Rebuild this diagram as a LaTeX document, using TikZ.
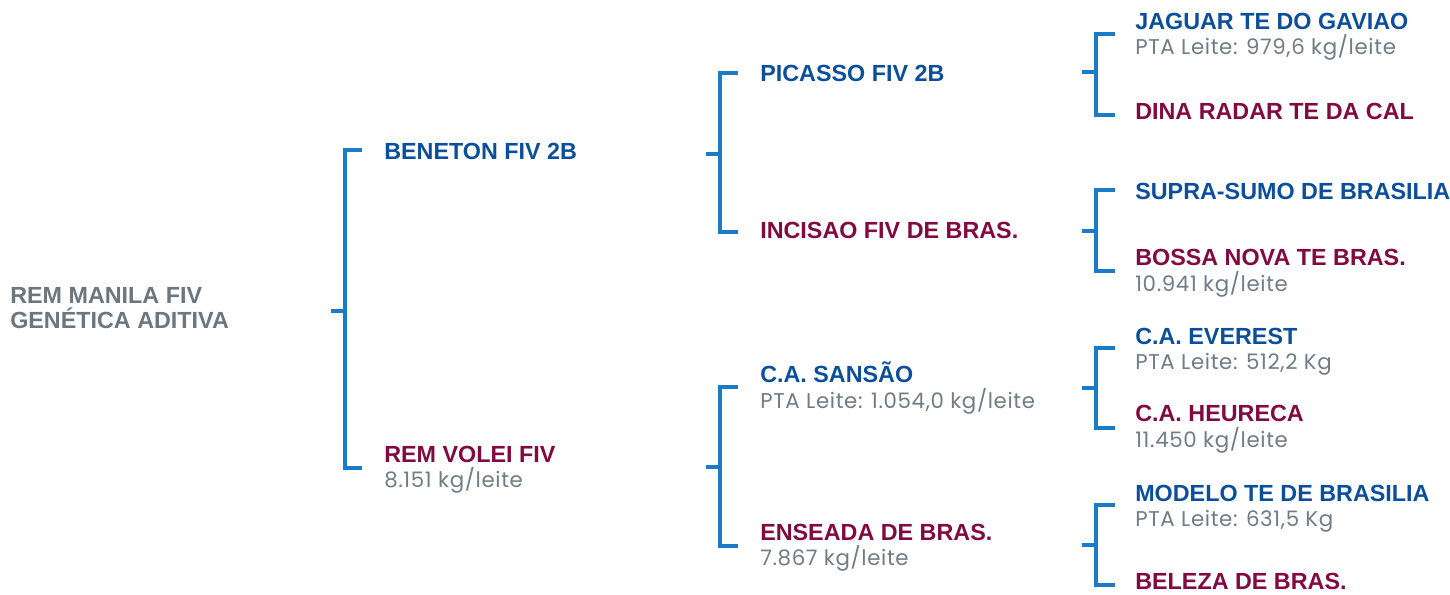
\documentclass[tikz,border=0pt]{standalone}
\usepackage{fontspec}
\setmainfont{Liberation Sans}
\newfontfamily\valfont{Poppins}[LetterSpace=3]
\definecolor{nameblue}{HTML}{0B4F9C}
\definecolor{namered}{HTML}{820A40}
\definecolor{valgrey}{HTML}{707C86}
\definecolor{rootgrey}{HTML}{6B767E}
\definecolor{brk}{HTML}{1A7CC6}
\tikzset{
  nm/.style={anchor=base west, inner sep=0pt, font=\fontsize{17.5}{20}\selectfont\bfseries},
  mblue/.style={nm, text=nameblue},
  mred/.style={nm, text=namered},
  val/.style={anchor=base west, inner sep=0pt, text=valgrey, font=\valfont\fontsize{16}{18}\selectfont},
  brack/.style={draw=brk, line width=2.4pt, line cap=rect},
}
\begin{document}
\begin{tikzpicture}[x=0.75pt,y=-0.75pt]
\useasboundingbox (0,0) rectangle (1450,594);
% root
\node[nm, text=rootgrey] (root) at (10,303) {REM MANILA FIV};
\node[nm, text=rootgrey] (root2) at (10,328) {GENÉTICA ADITIVA};
% level 1
\node[mblue] (beneton) at (384,159) {BENETON FIV 2B};
\node[mred] (volei) at (384,462) {REM VOLEI FIV};
\node[val] (voleiv) at (384,487) {8.151 kg/leite};
% level 2
\node[mblue] (picasso) at (760,81) {PICASSO FIV 2B};
\node[mred] (incisao) at (760,238) {INCISAO FIV DE BRAS.};
\node[mblue] (sansao) at (760,382) {C.A. SANSÃO};
\node[val] (sansaov) at (760,408) {PTA Leite: 1.054,0 kg/leite};
\node[mred] (enseada) at (760,540) {ENSEADA DE BRAS.};
\node[val] (enseadav) at (760,565) {7.867 kg/leite};
% level 3
\node[mblue] (jaguar) at (1135,29) {JAGUAR TE DO GAVIAO};
\node[val] (jaguarv) at (1135,54) {PTA Leite: 979,6 kg/leite};
\node[mred] (dina) at (1135,119) {DINA RADAR TE DA CAL};
\node[mblue] (supra) at (1135,199) {SUPRA-SUMO DE BRASILIA};
\node[mred] (bossa) at (1135,265) {BOSSA NOVA TE BRAS.};
\node[val] (bossav) at (1135,291) {10.941 kg/leite};
\node[mblue] (everest) at (1135,344) {C.A. EVEREST};
\node[val] (everestv) at (1135,369) {PTA Leite: 512,2 Kg};
\node[mred] (heureca) at (1135,421) {C.A. HEURECA};
\node[val] (heurecav) at (1135,447) {11.450 kg/leite};
\node[mblue] (modelo) at (1135,501) {MODELO TE DE BRASILIA};
\node[val] (modelov) at (1135,526) {PTA Leite: 631,5 Kg};
\node[mred] (beleza) at (1135,589) {BELEZA DE BRAS.};
% bracket anchor points
\coordinate (rootS) at (333,311);
\coordinate (rootV) at (345,311);
\coordinate (benetonT) at (362,150);
\coordinate (voleiT) at (362,468);
\coordinate (benS) at (708,154);
\coordinate (benV) at (720,154);
\coordinate (picassoT) at (738,73);
\coordinate (incisaoT) at (738,232);
\coordinate (volS) at (708,467);
\coordinate (volV) at (720,467);
\coordinate (sansaoT) at (738,387);
\coordinate (enseadaT) at (738,546);
\coordinate (picS) at (1084,72);
\coordinate (picV) at (1096,72);
\coordinate (jaguarT) at (1115,34);
\coordinate (dinaT) at (1115,115);
\coordinate (incS) at (1084,231);
\coordinate (incV) at (1096,231);
\coordinate (supraT) at (1115,190);
\coordinate (bossaT) at (1115,271);
\coordinate (sanS) at (1084,388);
\coordinate (sanV) at (1096,388);
\coordinate (everestT) at (1115,348);
\coordinate (heurecaT) at (1115,428);
\coordinate (ensS) at (1084,545);
\coordinate (ensV) at (1096,545);
\coordinate (modeloT) at (1115,505);
\coordinate (belezaT) at (1115,585);
% brackets
\foreach \s/\v/\a/\b in {rootS/rootV/benetonT/voleiT, benS/benV/picassoT/incisaoT, volS/volV/sansaoT/enseadaT, picS/picV/jaguarT/dinaT, incS/incV/supraT/bossaT, sanS/sanV/everestT/heurecaT, ensS/ensV/modeloT/belezaT}{
  \draw[brack] (\s) -- (\v);
  \draw[brack, line cap=butt] (\a) -| (\v) |- (\b);
}
\end{tikzpicture}
\end{document}
